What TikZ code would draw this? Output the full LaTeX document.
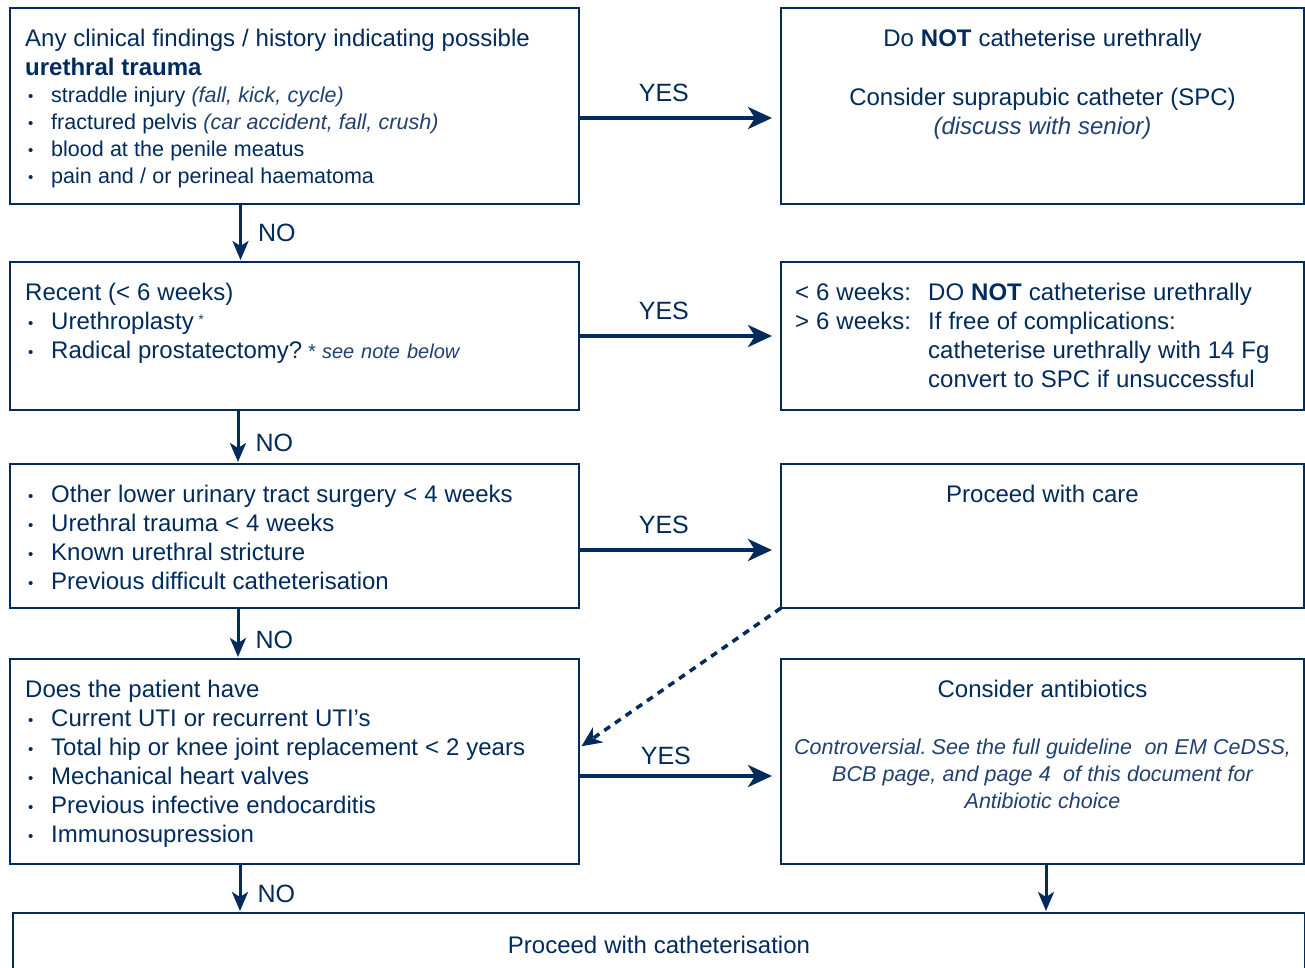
\documentclass[tikz,border=0pt]{standalone}
\usepackage{fontspec}
\setmainfont{Liberation Sans}
\usetikzlibrary{positioning, arrows.meta}
\definecolor{navy}{RGB}{0,43,92}
\definecolor{softnavy}{RGB}{32,64,112}
\setlength{\parindent}{0pt}

\newcommand{\bigtxt}{\fontsize{24}{29}\selectfont\spaceskip=0.29em\relax}
\newcommand{\smalltxt}{\fontsize{21.5}{27}\selectfont\spaceskip=0.29em\relax}
\newcommand{\aside}[1]{{\itshape\color{softnavy}#1}}
\newcommand{\bul}{\makebox[26pt][l]{\hspace{3pt}\raisebox{1pt}{\fontsize{15}{15}\selectfont\textbullet}}}

\begin{document}
\begin{tikzpicture}[x=1pt, y=-1pt,
  box/.style={draw=navy, line width=1.2pt, minimum width=569pt, inner sep=0pt, outer sep=0pt, anchor=north west},
  wide/.style={box, minimum width=523pt},
  txt/.style={text=navy, inner sep=0pt, text width=540pt, align=left, anchor=base west},
  ctxt/.style={text=navy, inner sep=0pt, text width=515pt, align=center, anchor=base},
  lbl/.style={text=navy, inner sep=0pt, font=\fontsize{25}{25}\selectfont},
  yesarrow/.style={draw=navy, line width=4pt, -{Stealth[length=24pt,width=22pt,inset=7pt]}, shorten >=9pt},
  noarrow/.style={draw=navy, line width=3pt, -{Stealth[length=19pt,width=16pt,inset=5pt]}, shorten >=2pt},
  dasharrow/.style={draw=navy, line width=3.5pt, dash pattern=on 7pt off 6pt, -{Stealth[length=20pt,width=18pt,inset=6pt]}, shorten >=3pt}]

  \useasboundingbox (0,0) rectangle (1305,967);
  \clip (0,0) rectangle (1305,967);

  % boxes
  \node[box, minimum height=196pt] (trauma) at (10,8) {};
  \node[wide, minimum height=196pt, right=202pt of trauma] (spc) {};
  \node[box, minimum height=148pt, below=58pt of trauma] (recent) {};
  \node[wide, minimum height=148pt, right=202pt of recent] (weeks) {};
  \node[box, minimum height=144pt, below=54pt of recent] (surgery) {};
  \node[wide, minimum height=144pt, right=202pt of surgery] (care) {};
  \node[box, minimum height=205pt, below=51pt of surgery] (patient) {};
  \node[wide, minimum height=205pt, right=202pt of patient] (antib) {};
  \node[box, minimum width=1292pt, minimum height=100pt, below=49pt of patient.south west, anchor=north west, xshift=3pt] (cath) {};

  % texts
  \node[txt] (trauma-txt) at ([xshift=15pt,yshift=-38pt]trauma.north west) {\bigtxt
    Any clinical findings / history indicating possible\par
    \textbf{urethral trauma}\par
    \smalltxt\bul straddle injury \aside{(fall, kick, cycle)}\par
    \bul fractured pelvis \aside{(car accident, fall, crush)}\par
    \bul blood at the penile meatus\par
    \bul pain and / or perineal haematoma\par};
  \node[ctxt] (spc-txt) at ([yshift=-38pt]spc.north) {\bigtxt
    Do \textbf{NOT} catheterise urethrally\par\vspace{30pt}
    Consider suprapubic catheter (SPC)\par
    \aside{(discuss with senior)}\par};
  \node[txt] (recent-txt) at ([xshift=15pt,yshift=-38pt]recent.north west) {\bigtxt
    Recent (< 6 weeks)\par
    \bul Urethroplasty\,\raisebox{5pt}{\aside{\fontsize{14}{14}\selectfont *}}\par
    \bul Radical prostatectomy? \aside{\fontsize{20}{20}\selectfont * see note below}\par};
  \node[txt, text width=500pt] (weeks-txt) at ([xshift=14pt,yshift=-38pt]weeks.north west) {\bigtxt
    \makebox[133pt][l]{< 6 weeks:}DO \textbf{NOT} catheterise urethrally\par
    \makebox[133pt][l]{> 6 weeks:}If free of complications:\par
    \hspace*{133pt}catheterise urethrally with 14 Fg\par
    \hspace*{133pt}convert to SPC if unsuccessful\par};
  \node[txt] (surgery-txt) at ([xshift=15pt,yshift=-38pt]surgery.north west) {\bigtxt
    \bul Other lower urinary tract surgery < 4 weeks\par
    \bul Urethral trauma < 4 weeks\par
    \bul Known urethral stricture\par
    \bul Previous difficult catheterisation\par};
  \node[ctxt] (care-txt) at ([yshift=-38pt]care.north) {\bigtxt Proceed with care\par};
  \node[txt] (patient-txt) at ([xshift=15pt,yshift=-38pt]patient.north west) {\bigtxt
    Does the patient have\par
    \bul Current UTI or recurrent UTI’s\par
    \bul Total hip or knee joint replacement < 2 years\par
    \bul Mechanical heart valves\par
    \bul Previous infective endocarditis\par
    \bul Immunosupression\par};
  \node[ctxt] (antib-txt) at ([yshift=-38pt]antib.north) {\bigtxt
    Consider antibiotics\par\vspace{30pt}
    \smalltxt\aside{Controversial. See the full guideline\ \ on EM CeDSS,\\
    BCB page, and page 4\ \ of this document for\\
    Antibiotic choice}\par};
  \node[ctxt, text width=1200pt] (cath-txt) at ([yshift=-40pt]cath.north) {\bigtxt Proceed with catheterisation\par};

  % yes arrows
  \draw[yesarrow] ([yshift=-12pt]trauma.east) -- node[lbl, above=14pt, pos=.42] (yes1) {YES} ([yshift=-12pt]trauma.east -| spc.west);
  \draw[yesarrow] (recent.east) -- node[lbl, above=14pt, pos=.42] (yes2) {YES} (recent.east -| weeks.west);
  \draw[yesarrow] ([yshift=-14pt]surgery.east) -- node[lbl, above=14pt, pos=.42] (yes3) {YES} ([yshift=-14pt]surgery.east -| care.west);
  \draw[yesarrow] ([yshift=-14.5pt]patient.east) -- node[lbl, above=9pt, pos=.43] (yes4) {YES} ([yshift=-14.5pt]patient.east -| antib.west);

  % no arrows
  \draw[noarrow] ([xshift=-54pt]trauma.south) -- node[lbl, right=16pt] (no1) {NO} ([xshift=-54pt]trauma.south |- recent.north);
  \draw[noarrow] ([xshift=-56.5pt]recent.south) -- node[lbl, right=16pt, pos=.6] (no2) {NO} ([xshift=-56.5pt]recent.south |- surgery.north);
  \draw[noarrow] ([xshift=-56.5pt]surgery.south) -- node[lbl, right=16pt, pos=.62] (no3) {NO} ([xshift=-56.5pt]surgery.south |- patient.north);
  \draw[noarrow] ([xshift=-54.5pt]patient.south) -- node[lbl, right=16pt, pos=.6] (no4) {NO} ([xshift=-54.5pt]patient.south |- cath.north);
  \draw[noarrow] ([xshift=3.5pt]antib.south) -- ([xshift=3.5pt]antib.south |- cath.north);

  \draw[dasharrow] (care.south west) -- ([yshift=13.5pt]patient.east);
\end{tikzpicture}
\end{document}
